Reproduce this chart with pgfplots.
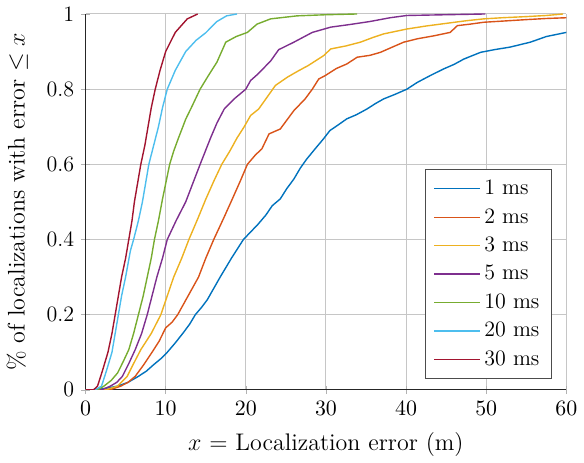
\documentclass[border=0pt]{standalone}
\usepackage{pgfplots}
\pgfplotsset{compat=1.18}
\definecolor{c1}{rgb}{0,0.447,0.741}
\definecolor{c2}{rgb}{0.85,0.325,0.098}
\definecolor{c3}{rgb}{0.929,0.694,0.125}
\definecolor{c4}{rgb}{0.494,0.184,0.556}
\definecolor{c5}{rgb}{0.466,0.674,0.188}
\definecolor{c6}{rgb}{0.301,0.745,0.933}
\definecolor{c7}{rgb}{0.635,0.078,0.184}
\begin{document}
\begin{tikzpicture}
\begin{axis}[
  scale only axis,
  width=240.5pt, height=188pt,
  xmin=0, xmax=60, ymin=0, ymax=1,
  xtick={0,10,...,60},
  ytick={0,0.2,0.4,0.6,0.8,1},
  yticklabels={0,0.2,0.4,0.6,0.8,1},
  ticklabel style={font=\fontsize{11}{13}\selectfont},
  label style={font=\fontsize{12}{14}\selectfont},
  ylabel shift=2.5pt,
  xlabel shift=1.5pt,
  axis lines=left,
  axis line style={-, black!85, line width=0.5pt},
  grid=major,
  major grid style={gray!45, line width=0.5pt},
  tick style={gray!60},
  xlabel={$x$ = Localization error (m)},
  ylabel={\% of localizations with error $\leq x$},
  legend style={at={(0.97,0.03)}, anchor=south east, draw=black!70, line width=0.5pt, font=\fontsize{11}{13}\selectfont, inner xsep=4pt, inner ysep=3pt, row sep=1.4pt},
  legend cell align=left,
  legend image code/.code={\draw[#1, line width=0.7pt] (0cm,0cm) -- (0.8cm,0cm);},
  every axis plot/.append style={line width=0.7pt},
  clip=true,
]
\addplot[c1] coordinates {(0,0)(1,0)(2.5,0.004)(4,0.01)(5.3,0.02)(6.6,0.036)(7.6,0.05)(8.5,0.067)(9.4,0.083)(10.2,0.1)(11.2,0.125)(12.2,0.152)(13.0,0.175)(13.7,0.2)(14.5,0.22)(15.2,0.24)(16.0,0.27)(16.8,0.3)(18.2,0.35)(19.7,0.4)(20.6,0.42)(21.5,0.44)(22.5,0.465)(23.3,0.49)(24.3,0.508)(25.1,0.535)(26,0.561)(26.8,0.59)(27.6,0.614)(28.6,0.64)(29.7,0.668)(30.5,0.69)(31.4,0.703)(32.6,0.721)(33.8,0.732)(35.1,0.747)(36.2,0.762)(37.2,0.774)(38.6,0.786)(40.1,0.8)(41.4,0.818)(43,0.836)(44.7,0.854)(46,0.866)(47.2,0.88)(49.3,0.898)(51,0.905)(53,0.912)(55.5,0.925)(57.5,0.94)(60,0.951)};
\addlegendentry{1 ms}
\addplot[c2] coordinates {(0,0)(3,0)(4.4,0.01)(5.3,0.02)(6.2,0.036)(7.2,0.065)(8.3,0.1)(9.2,0.13)(10,0.165)(10.8,0.18)(11.5,0.2)(12.8,0.25)(14.1,0.3)(15,0.35)(16,0.4)(17.2,0.455)(18.3,0.507)(19.3,0.555)(20.2,0.6)(21.2,0.625)(22,0.641)(22.9,0.681)(24.3,0.694)(25.2,0.72)(26,0.743)(27.4,0.774)(28.3,0.8)(29.1,0.827)(29.9,0.836)(31.3,0.855)(32.6,0.867)(33.9,0.885)(35.5,0.89)(36.8,0.898)(38.3,0.912)(39.7,0.925)(41.4,0.934)(43.5,0.942)(45.5,0.951)(46.4,0.969)(48,0.973)(49.7,0.978)(52,0.981)(55,0.985)(57.5,0.988)(60,0.99)};
\addlegendentry{2 ms}
\addplot[c3] coordinates {(0,0)(2.5,0)(4,0.01)(5.2,0.036)(6.0,0.07)(6.9,0.107)(8.2,0.15)(9.4,0.2)(10.2,0.25)(11,0.3)(12,0.35)(12.9,0.4)(14,0.455)(15,0.507)(16,0.555)(17,0.6)(18,0.635)(18.9,0.67)(19.8,0.7)(20.6,0.73)(21.6,0.747)(22.5,0.774)(23.7,0.81)(25.2,0.832)(26.5,0.848)(27.8,0.863)(29.7,0.889)(30.6,0.907)(32.5,0.915)(34.3,0.925)(35.8,0.937)(37.2,0.947)(40.1,0.96)(42.5,0.968)(45,0.975)(47.5,0.982)(49.7,0.987)(52,0.99)(55,0.993)(57.5,0.996)(59.6,1)};
\addlegendentry{3 ms}
\addplot[c4] coordinates {(0,0)(2,0)(3.1,0.01)(3.9,0.02)(4.6,0.036)(5.4,0.07)(6.2,0.107)(7.0,0.15)(7.7,0.2)(8.3,0.25)(8.9,0.3)(9.6,0.35)(10.2,0.4)(11.3,0.45)(12.5,0.5)(13.4,0.55)(14.3,0.6)(15.6,0.67)(16.4,0.71)(17.3,0.747)(18.6,0.775)(20,0.8)(20.6,0.823)(21.5,0.84)(23.1,0.875)(24.1,0.905)(26,0.925)(28.3,0.951)(30.6,0.965)(33,0.972)(35.5,0.98)(38,0.99)(40.1,0.996)(45,0.998)(49.9,1)};
\addlegendentry{5 ms}
\addplot[c5] coordinates {(0,0)(1.5,0)(2.3,0.01)(3.2,0.025)(4.0,0.045)(4.7,0.075)(5.4,0.107)(6.0,0.15)(6.6,0.2)(7.2,0.25)(7.7,0.3)(8.2,0.35)(8.6,0.4)(9.1,0.45)(9.6,0.507)(10.5,0.6)(11,0.635)(11.6,0.67)(12.5,0.72)(13.3,0.755)(14.3,0.8)(15.3,0.835)(16.4,0.872)(17.5,0.925)(18.8,0.94)(20.2,0.951)(21.4,0.973)(23.1,0.987)(26.4,0.995)(30,0.998)(33.9,1)};
\addlegendentry{10 ms}
\addplot[c6] coordinates {(0,0)(1.2,0)(2,0.01)(2.6,0.05)(3.3,0.1)(3.7,0.15)(4.1,0.2)(4.5,0.25)(5.0,0.3)(5.6,0.37)(6.0,0.4)(6.6,0.45)(7.1,0.5)(7.9,0.6)(8.5,0.65)(9.1,0.7)(9.6,0.75)(10.2,0.8)(11.2,0.85)(12.5,0.9)(13.8,0.93)(15,0.95)(16.4,0.98)(17.6,0.995)(18.9,1)};
\addlegendentry{20 ms}
\addplot[c7] coordinates {(0,0)(1.0,0)(1.5,0.01)(2.1,0.05)(2.8,0.1)(3.3,0.15)(3.7,0.2)(4.1,0.25)(4.5,0.3)(5.0,0.35)(5.4,0.4)(5.8,0.45)(6.1,0.5)(6.5,0.55)(6.9,0.6)(7.4,0.65)(7.8,0.7)(8.2,0.75)(8.7,0.8)(9.3,0.85)(10.0,0.9)(11.2,0.951)(12.7,0.987)(14.0,1)};
\addlegendentry{30 ms}
\end{axis}
\end{tikzpicture}
\end{document}
